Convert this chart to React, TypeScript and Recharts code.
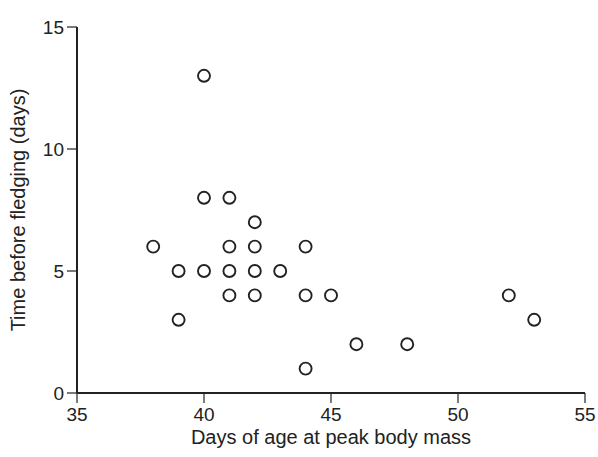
import { ScatterChart, Scatter, XAxis, YAxis, Label } from "recharts";

// days of age at peak body mass vs time before fledging (days)
const peakAge = [38, 39, 39, 40, 40, 40, 41, 41, 41, 41, 42, 42, 42, 42, 43, 44, 44, 44, 45, 46, 48, 52, 53];
const daysBefore = [6, 5, 3, 13, 8, 5, 8, 6, 5, 4, 7, 6, 5, 4, 5, 6, 4, 1, 4, 2, 2, 4, 3];
const xTicks = [35, 40, 45, 50, 55];
const yTicks = [0, 5, 10, 15];

const points = peakAge.map((x, i) => ({ x, y: daysBefore[i] }));

const INK = "#222";
const FONT = "'Liberation Sans', Arial, Helvetica, sans-serif";

function Ring(props: any) {
  return <circle cx={props.cx} cy={props.cy} r={6} fill="#fff" stroke={INK} strokeWidth={1.9} />;
}

export default function App() {
  return (
    <div style={{ position: "absolute", left: 0, top: 0, background: "#fff" }}>
      <ScatterChart width={598} height={457} margin={{ top: 27, right: 13, bottom: 10, left: 0 }}>
        <XAxis
          type="number"
          dataKey="x"
          domain={[35, 55]}
          ticks={xTicks}
          height={54}
          tickSize={10}
          tickMargin={5}
          axisLine={{ stroke: INK, strokeWidth: 2 }}
          tickLine={{ stroke: INK, strokeWidth: 1.2 }}
          tick={{ fill: INK, fontSize: 19, fontFamily: FONT }}
        >
          <Label
            value="Days of age at peak body mass"
            position="insideBottom"
            offset={3}
            style={{ fill: INK, fontSize: 20, fontFamily: FONT }}
          />
        </XAxis>
        <YAxis
          type="number"
          dataKey="y"
          domain={[0, 15]}
          ticks={yTicks}
          width={77}
          tickSize={10}
          tickMargin={3}
          axisLine={{ stroke: INK, strokeWidth: 2 }}
          tickLine={{ stroke: INK, strokeWidth: 1.2 }}
          tick={{ fill: INK, fontSize: 19, fontFamily: FONT }}
        >
          <Label
            value="Time before fledging (days)"
            angle={-90}
            position="insideLeft"
            offset={18}
            style={{ fill: INK, fontSize: 20, fontFamily: FONT, textAnchor: "middle" }}
          />
        </YAxis>
        <Scatter data={points} shape={Ring} isAnimationActive={false} />
      </ScatterChart>
    </div>
  );
}
